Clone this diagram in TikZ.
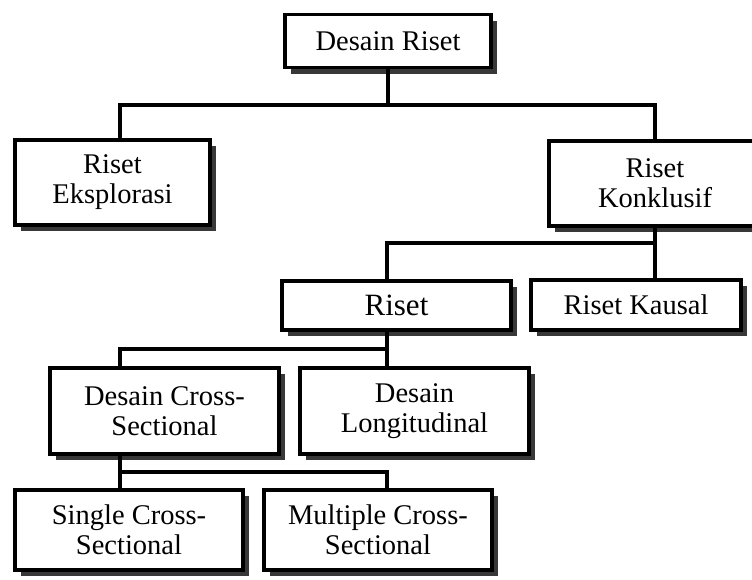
\documentclass[tikz,border=0pt]{standalone}
\usepackage{fontspec}
\setmainfont{Liberation Serif}
\usetikzlibrary{shadows}
\begin{document}
\begin{tikzpicture}[x=1pt,y=-1pt,
  box/.style={draw=black, line width=3.6pt, fill=white, align=center,
    inner sep=0pt, font=\fontsize{28.5}{30}\selectfont,
    drop shadow={shadow xshift=6pt, shadow yshift=-6pt, fill=black!78, opacity=1}},
  link/.style={line width=3.4pt, line cap=rect}]
\useasboundingbox (0,0) rectangle (752,579);
\clip (0,0) rectangle (752,579);

% boxes
\node[box, minimum width=206pt, minimum height=53pt] (DR) at (388,41) {Desain Riset};
\node[box, minimum width=195pt, minimum height=85pt] (RE) at (112.5,182.5) {Riset\\Eksplorasi};
\node[box, minimum width=212pt, minimum height=85pt] (RK) at (655,183.5) {Riset\\Konklusif};
\node[box, minimum width=229pt, minimum height=49pt, font=\fontsize{31}{33}\selectfont] (R) at (396.5,305.5) {Riset};
\node[box, minimum width=210pt, minimum height=50pt] (RKa) at (636,305) {Riset Kausal};
\node[box, minimum width=229pt, minimum height=86pt] (DCS) at (164.5,411) {Desain Cross-\\Sectional};
\node[box, minimum width=229pt, minimum height=86pt] (DL) at (414.5,411) {Desain\\Longitudinal};
\node[box, minimum width=228pt, minimum height=80pt] (SCS) at (129,530) {Single Cross-\\Sectional};
\node[box, minimum width=228pt, minimum height=80pt] (MCS) at (378,530) {Multiple Cross-\\Sectional};

% junction points of the tree
\coordinate (j0) at (120,105);
\coordinate (j1) at (388,105);
\coordinate (j2) at (655,243);
\coordinate (j3) at (387,349);
\coordinate (j4) at (120,472);

% connectors
\draw[link] (DR.south) -- (j1);
\draw[link] (j0 |- RE.north) -- (j0) -- (j1 -| RK.north) -- (RK.north);

\draw[link] (RK.south) -- (j2) -- (j2 -| j3) -- (j3 |- R.north);
\draw[link] (j2) -- (j2 |- RKa.north);

\draw[link] (j3 |- R.south) -- (j3) -- (j3 -| j4) -- (j4 |- DCS.north);
\draw[link] (j3) -- (j3 |- DL.north);

\draw[link] (j4 |- DCS.south) -- (j4) -- (j4 -| j3) -- (j3 |- MCS.north);
\draw[link] (j4) -- (j4 |- SCS.north);
\end{tikzpicture}
\end{document}
